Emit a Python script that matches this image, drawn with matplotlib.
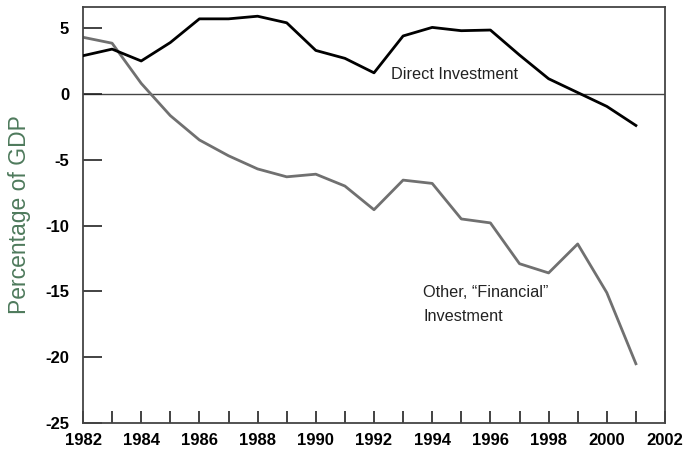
import matplotlib
matplotlib.use("Agg")
import matplotlib.pyplot as plt

years = list(range(1982, 2002))
direct = [2.9, 3.4, 2.5, 3.9, 5.7, 5.7, 5.9, 5.4, 3.3, 2.7, 1.6, 4.4, 5.05, 4.8, 4.85, 2.95, 1.15, 0.1, -0.95, -2.4]
other = [4.3, 3.85, 0.8, -1.65, -3.5, -4.7, -5.7, -6.3, -6.1, -7.0, -8.8, -6.55, -6.8, -9.5, -9.8, -12.9, -13.6, -11.4, -15.1, -20.5]
xtick_labels = [str(y) for y in range(1982, 2003, 2)]
yticks = [5, 0, -5, -10, -15, -20, -25]

fig = plt.figure(figsize=(6.88, 4.5), dpi=100)
ax = fig.add_axes([83/688, 1 - 423/450, (665-83)/688, (423-7)/450])

ax.axhline(0, color="#444444", lw=1.0, zorder=1)
ax.plot(years, other, color="#707070", lw=2.0, zorder=2)
ax.plot(years, direct, color="#000000", lw=2.0, zorder=3)

ax.set_xlim(1982, 2002)
ax.set_ylim(-25, 6.6)
ax.set_xticks(range(1982, 2003, 2))
ax.set_xticks(range(1982, 2003), minor=True)
ax.set_xticklabels(xtick_labels)
ax.set_yticks(yticks)
ax.set_yticklabels([str(v) for v in yticks])

for lab in ax.get_xticklabels() + ax.get_yticklabels():
    lab.set_fontfamily(["Liberation Sans", "DejaVu Sans"])
    lab.set_fontweight("bold")
    lab.set_fontsize(12)

ax.tick_params(axis="x", which="both", direction="in", length=9, width=1.2, color="#222222", pad=7.5)
ax.tick_params(axis="y", which="both", direction="in", length=14, width=1.2, color="#222222", pad=10)
for s in ax.spines.values():
    s.set_color("#444444")
    s.set_linewidth(1.3)

ax.set_ylabel("Percentage of GDP", color="#4e7a5c", fontsize=16.5,
              family=["Liberation Sans", "DejaVu Sans"], labelpad=10)

ax.text(1992.6, 1.5, "Direct Investment", color="#222222", fontsize=11.7,
        family=["Liberation Sans", "DejaVu Sans"], va="center", ha="left")
ax.text(1993.7, -16.0, "Other, \u201cFinancial\u201d\nInvestment", color="#222222", fontsize=11.7,
        family=["Liberation Sans", "DejaVu Sans"], va="center", ha="left", linespacing=1.75)

fig.savefig("out.png", dpi=100)
